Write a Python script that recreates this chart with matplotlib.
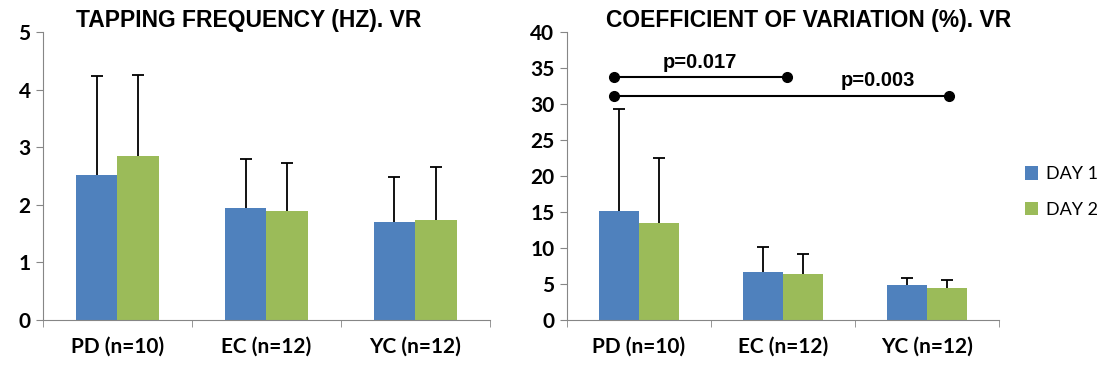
import matplotlib.pyplot as plt
import numpy as np

groups = ["PD (n=10)", "EC (n=12)", "YC (n=12)"]
series = ["DAY 1", "DAY 2"]

# tapping frequency (Hz): mean and top of error bar
freq_day1 = [2.52, 1.94, 1.70]
freq_day2 = [2.85, 1.89, 1.73]
freq_top1 = [4.24, 2.79, 2.49]
freq_top2 = [4.25, 2.73, 2.66]

# coefficient of variation (%)
cv_day1 = [15.2, 6.7, 4.8]
cv_day2 = [13.5, 6.4, 4.5]
cv_top1 = [29.3, 10.1, 5.9]
cv_top2 = [22.5, 9.2, 5.5]

# significance brackets: (x start, x end, y, label, label x, label y)
sig = [(-0.17, 1.03, 33.8, "p=0.017", 0.42, 35.8),
       (-0.17, 2.15, 31.1, "p=0.003", 1.66, 33.3)]

blue = "#4F81BD"
green = "#9BBB59"
axis_grey = "#868686"
tick_font = "Lato"
title_font = "Liberation Sans"

fig = plt.figure(figsize=(11.03, 3.69), dpi=100)
ax1 = fig.add_axes([0.039, 0.1328, 0.405, 0.7805])
ax2 = fig.add_axes([0.514, 0.1328, 0.3917, 0.7805])

w = 0.28
x = np.arange(len(groups))


def draw(ax, d1, d2, t1, t2, ymax, step, title):
    for vals, tops, off, col, lab in [(d1, t1, -w / 2, blue, series[0]),
                                      (d2, t2, w / 2, green, series[1])]:
        ax.bar(x + off, vals, width=w, color=col, label=lab, zorder=2)
        # upper-only error bars
        ax.vlines(x + off, vals, tops, color="black", lw=1.3, zorder=3)
        ax.plot(x + off, tops, ls="none", marker="_", markersize=8,
                markeredgewidth=1.3, color="black", zorder=3)
    ax.set_xlim(-0.5, 2.5)
    ax.set_ylim(0, ymax)
    ax.set_yticks(np.arange(0, ymax + step / 2, step))
    ax.set_xticks(x)
    ax.set_xticklabels(groups, fontfamily=tick_font, fontweight="bold", fontsize=15)
    ax.set_xticks([-0.5, 0.5, 1.5, 2.5], minor=True)
    ax.tick_params(axis="x", which="major", length=0, pad=12)
    ax.tick_params(axis="x", which="minor", length=5, color=axis_grey, direction="out")
    ax.tick_params(axis="y", length=5, color=axis_grey, direction="out", pad=4)
    for lbl in ax.get_yticklabels():
        lbl.set_fontfamily(tick_font)
        lbl.set_fontweight("bold")
        lbl.set_fontsize(15)
    ax.spines["top"].set_visible(False)
    ax.spines["right"].set_visible(False)
    ax.spines["left"].set_color(axis_grey)
    ax.spines["bottom"].set_color(axis_grey)
    ax.set_title(title, fontfamily=title_font, fontweight="bold", fontsize=16.5, pad=2)


draw(ax1, freq_day1, freq_day2, freq_top1, freq_top2, 5, 1,
     "TAPPING FREQUENCY (HZ). VR")
draw(ax2, cv_day1, cv_day2, cv_top1, cv_top2, 40, 5,
     "COEFFICIENT OF VARIATION (%). VR")
ax1.title.set_position((0.46, 1.0))
ax2.title.set_position((0.56, 1.0))

for x0, x1, y, lab, lx, ly in sig:
    ax2.plot([x0, x1], [y, y], color="black", lw=1.5, marker="o", markersize=7,
             clip_on=False, zorder=4)
    ax2.text(lx, ly, lab, ha="center", va="center", fontfamily=title_font,
             fontweight="bold", fontsize=14.5)

ax2.legend(loc="center left", bbox_to_anchor=(1.06, 0.444), frameon=False,
           prop={"family": tick_font, "size": 13}, handlelength=0.75, handleheight=0.75,
           labelspacing=1.1, handletextpad=0.4, borderpad=0, borderaxespad=0)

plt.savefig("out.png", dpi=100)
